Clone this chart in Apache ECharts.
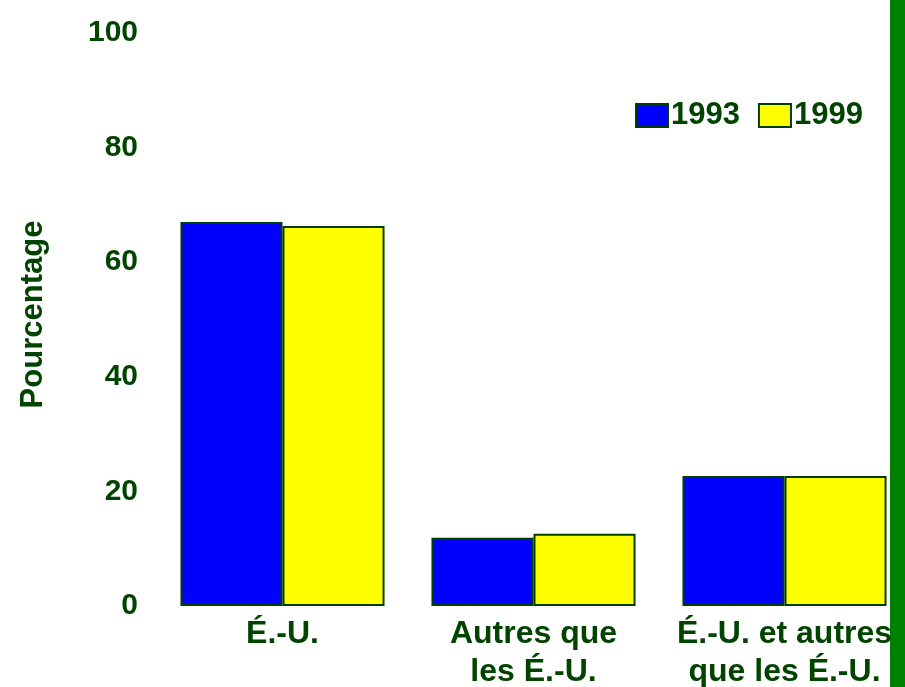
<!DOCTYPE html>
<html>
<head>
<meta charset="utf-8">
<script src="https://cdn.jsdelivr.net/npm/echarts@6/dist/echarts.min.js"></script>
<style>
  html, body { margin: 0; padding: 0; background: #fff; }
  #chart { width: 905px; height: 687px; }
</style>
</head>
<body>
<div id="chart"></div>
<script>
// categories and values
var categories = ['É.-U.', 'Autres que\nles É.-U.', 'É.-U. et autres\nque les É.-U.'];
var seriesNames = ['1993', '1999'];
var values1993 = [67.0, 11.9, 22.7];
var values1999 = [66.3, 12.6, 22.7];
var yTicks = [0, 20, 40, 60, 80, 100];

var textColor = '#004400';
var edgeColor = '#003f00';
var font = 'Liberation Sans, Arial, Helvetica, sans-serif';

var myChart = echarts.init(document.getElementById('chart'));

var option = {
    backgroundColor: '#ffffff',
    animation: false,
    graphic: [{
        type: 'rect',
        z: -10,
        shape: { x: 890, y: 0, width: 15, height: 687 },
        style: { fill: '#008000' }
    }],
    legend: {
        left: 630,
        top: 95,
        itemWidth: 32,
        itemHeight: 23,
        itemGap: 18,
        icon: 'rect',
        data: seriesNames,
        textStyle: { color: textColor, fontSize: 31, fontWeight: 'bold', fontFamily: font, padding: [0, 0, 0, -2] },
        itemStyle: { borderColor: edgeColor, borderWidth: 2 }
    },
    grid: { left: 157, top: 33, width: 753, height: 573, containLabel: false, outerBoundsMode: 'none' },
    xAxis: {
        type: 'category',
        data: categories,
        axisLine: { show: false },
        axisTick: { show: false },
        axisLabel: {
            color: textColor, fontSize: 32, fontWeight: 'bold', fontFamily: font,
            lineHeight: 38, margin: 9, interval: 0
        }
    },
    yAxis: {
        type: 'value',
        min: yTicks[0],
        max: yTicks[yTicks.length - 1],
        interval: 20,
        name: 'Pourcentage',
        nameLocation: 'middle',
        nameRotate: 90,
        nameGap: 108,
        nameTextStyle: { color: textColor, fontSize: 31, fontWeight: 'bold', fontFamily: font, padding: [0, 0, 0, 10] },
        axisLine: { show: false },
        axisTick: { show: false },
        splitLine: { show: false },
        axisLabel: {
            color: textColor, fontSize: 30, fontWeight: 'bold', fontFamily: font,
            margin: 19, padding: [0, 0, 6, 0]
        }
    },
    series: [{
        name: seriesNames[0],
        type: 'bar',
        data: values1993,
        barGap: '0%',
        barCategoryGap: '18.7%',
        itemStyle: { color: '#0000ff', borderColor: edgeColor, borderWidth: 2 }
    }, {
        name: seriesNames[1],
        type: 'bar',
        data: values1999,
        itemStyle: { color: '#ffff00', borderColor: edgeColor, borderWidth: 2 }
    }]
};

myChart.setOption(option);
</script>
</body>
</html>
